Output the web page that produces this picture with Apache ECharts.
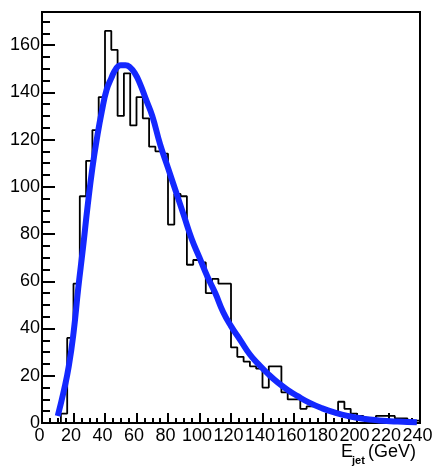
<!DOCTYPE html>
<html>
<head>
<meta charset="utf-8">
<script src="https://cdn.jsdelivr.net/npm/echarts@6/dist/echarts.min.js"></script>
<style>
  html, body { margin: 0; padding: 0; background: #fff; }
  #chart { width: 436px; height: 469px; }
</style>
</head>
<body>
<div id="chart"></div>
<script>
// Jet energy histogram: 60 bins of 4 GeV from 0 to 240 GeV
const binLow = 0;
const binWidth = 4;
const binCounts = [
  0, 0, 0, 4, 36, 59, 96, 111, 124, 138,
  166, 158, 130, 148, 126, 138, 129, 117, 115, 114,
  84, 97, 96, 67, 69, 68, 55, 61, 59, 59,
  32, 28, 26, 24, 23, 15, 24, 24, 13, 10,
  10, 6, 7, 7, 6, 5, 5, 9, 6, 4,
  3, 2, 2, 3, 3, 3, 2, 2, 1, 1
];

// Fitted curve, sampled along E_jet (GeV)
const fitE = [10, 14, 17, 20, 23, 26, 29, 32, 35, 38, 41, 44, 47, 50, 53, 56, 59, 62, 66, 70,
  75, 80, 85, 90, 95, 100, 105, 110, 115, 120, 126, 132, 138, 144, 150, 156, 162, 170, 178, 186,
  194, 204, 214, 226, 238];
const fitN = [3, 14, 24, 38, 57, 74, 92, 108, 121, 132, 141, 146, 150, 151.5, 151.5, 150.5, 148, 144, 137, 130,
  118, 108, 98, 88, 78, 70, 62, 55, 47, 41, 35, 29, 24.5, 20.5, 17, 14, 11.5, 8.5, 6.2, 4.4,
  3, 1.8, 1.1, 0.6, 0.3];

// Axis ranges and tick steps
const xRange = [0, 240];
const yRange = [0, 174];
const xMajorStep = 20;
const yMajorStep = 20;
const yMinorStep = 5;

// Step outline: each bin's low edge holds its count until the next edge
const histData = binCounts.map((c, i) => [binLow + i * binWidth, c]);
histData.push([binLow + binCounts.length * binWidth, binCounts[binCounts.length - 1]]);
const fitData = fitE.map((e, i) => [e, fitN[i]]);

const FONT = 'Liberation Sans';
const black = '#000';

const chart = echarts.init(document.getElementById('chart'), null, { renderer: 'canvas' });
chart.setOption({
  animation: false,
  backgroundColor: '#fff',
  grid: {
    left: 42, right: 16, top: 12, bottom: 46,
    show: true, borderColor: black, borderWidth: 2,
    backgroundColor: 'transparent',
    outerBoundsMode: 'none'
  },
  xAxis: {
    type: 'value', min: xRange[0], max: xRange[1], interval: xMajorStep,
    axisLine: { lineStyle: { color: black, width: 2 } },
    axisTick: { inside: true, length: 10, lineStyle: { color: black, width: 2 } },
    minorTick: { show: true, splitNumber: 4, length: 5, lineStyle: { color: black, width: 2 } },
    splitLine: { show: false },
    axisLabel: { color: black, fontSize: 18, fontFamily: FONT, margin: 4, padding: [0, 5, 0, 0] }
  },
  yAxis: [
    {
      type: 'value', min: yRange[0], max: yRange[1], interval: yMajorStep,
      axisLine: { show: true, lineStyle: { color: black, width: 2 } },
      axisTick: { show: true, inside: true, length: 13, lineStyle: { color: black, width: 2 } },
      splitLine: { show: false },
      axisLabel: { color: black, fontSize: 18, fontFamily: FONT, margin: 2, showMaxLabel: false }
    },
    {
      type: 'value', min: yRange[0], max: yRange[1], interval: yMinorStep, position: 'left',
      axisLine: { show: false },
      axisTick: { show: true, inside: true, length: 8, lineStyle: { color: black, width: 2 } },
      splitLine: { show: false },
      axisLabel: { show: false }
    }
  ],
  series: [
    {
      type: 'line', data: histData, step: 'end', symbol: 'none',
      xAxisIndex: 0, yAxisIndex: 0, z: 2,
      lineStyle: { color: black, width: 1.8 }
    },
    {
      type: 'line', data: fitData, smooth: true, symbol: 'none',
      xAxisIndex: 0, yAxisIndex: 0, z: 3,
      lineStyle: { color: '#1428ff', width: 6 }
    }
  ],
  graphic: [
    { type: 'text', left: 341, top: 443, style: { text: 'E', fontSize: 18, fontFamily: FONT, fill: black } },
    { type: 'text', left: 352, top: 455, style: { text: 'jet', fontSize: 11, fontFamily: FONT, fill: black, fontWeight: 'bold' } },
    { type: 'text', left: 368, top: 443, style: { text: '(GeV)', fontSize: 18, fontFamily: FONT, fill: black } }
  ]
});
</script>
</body>
</html>
